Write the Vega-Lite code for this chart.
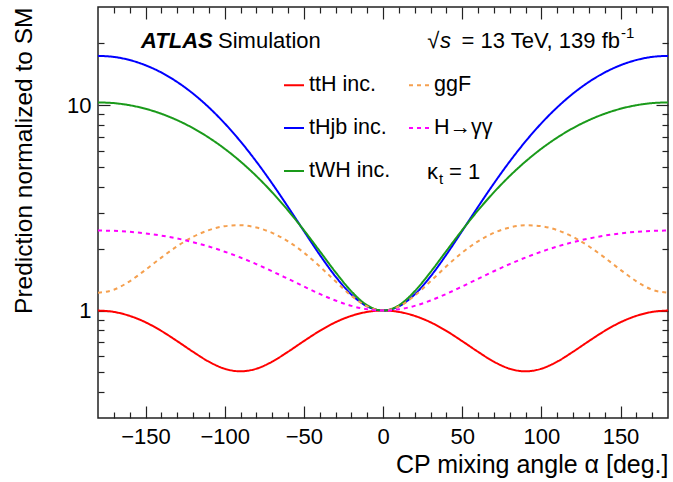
{
  "$schema": "https://vega.github.io/schema/vega-lite/v6.json",
  "width": 570,
  "height": 411,
  "autosize": {"type": "none"},
  "padding": {"left": 98, "top": 7, "right": 5, "bottom": 64},
  "background": "white",
  "config": {
    "view": {"stroke": "#222222", "strokeWidth": 1.5},
    "font": "Liberation Sans",
    "axis": {"domain": false, "grid": false, "tickColor": "#222222", "tickWidth": 1.2, "labelFont": "Liberation Sans", "titleFont": "Liberation Sans", "labelFontSize": 22, "titleFontSize": 25, "titleFontWeight": "normal", "labelColor": "black", "titleColor": "black"},
    "text": {"font": "Liberation Sans", "color": "black"}
  },
  "resolve": {"axis": {"x": "independent", "y": "independent"}},
  "layer": [
    {
      "data": {"values": [
        {"alpha": -180, "series": "ttH inc.", "value": 1.000}, {"alpha": -170, "series": "ttH inc.", "value": 0.985}, {"alpha": -160, "series": "ttH inc.", "value": 0.942}, {"alpha": -150, "series": "ttH inc.", "value": 0.877}, {"alpha": -140, "series": "ttH inc.", "value": 0.796}, {"alpha": -130, "series": "ttH inc.", "value": 0.710}, {"alpha": -120, "series": "ttH inc.", "value": 0.630}, {"alpha": -110, "series": "ttH inc.", "value": 0.564}, {"alpha": -100, "series": "ttH inc.", "value": 0.521}, {"alpha": -90, "series": "ttH inc.", "value": 0.506}, {"alpha": -80, "series": "ttH inc.", "value": 0.521}, {"alpha": -70, "series": "ttH inc.", "value": 0.564}, {"alpha": -60, "series": "ttH inc.", "value": 0.630}, {"alpha": -50, "series": "ttH inc.", "value": 0.710}, {"alpha": -40, "series": "ttH inc.", "value": 0.796}, {"alpha": -30, "series": "ttH inc.", "value": 0.877}, {"alpha": -20, "series": "ttH inc.", "value": 0.942}, {"alpha": -10, "series": "ttH inc.", "value": 0.985}, {"alpha": 0, "series": "ttH inc.", "value": 1.000}, {"alpha": 10, "series": "ttH inc.", "value": 0.985}, {"alpha": 20, "series": "ttH inc.", "value": 0.942}, {"alpha": 30, "series": "ttH inc.", "value": 0.877}, {"alpha": 40, "series": "ttH inc.", "value": 0.796}, {"alpha": 50, "series": "ttH inc.", "value": 0.710}, {"alpha": 60, "series": "ttH inc.", "value": 0.630}, {"alpha": 70, "series": "ttH inc.", "value": 0.564}, {"alpha": 80, "series": "ttH inc.", "value": 0.521}, {"alpha": 90, "series": "ttH inc.", "value": 0.506}, {"alpha": 100, "series": "ttH inc.", "value": 0.521}, {"alpha": 110, "series": "ttH inc.", "value": 0.564}, {"alpha": 120, "series": "ttH inc.", "value": 0.630}, {"alpha": 130, "series": "ttH inc.", "value": 0.710}, {"alpha": 140, "series": "ttH inc.", "value": 0.796}, {"alpha": 150, "series": "ttH inc.", "value": 0.877}, {"alpha": 160, "series": "ttH inc.", "value": 0.942}, {"alpha": 170, "series": "ttH inc.", "value": 0.985}, {"alpha": 180, "series": "ttH inc.", "value": 1.000},
        {"alpha": -180, "series": "tHjb inc.", "value": 17.35}, {"alpha": -170, "series": "tHjb inc.", "value": 17.15}, {"alpha": -160, "series": "tHjb inc.", "value": 16.56}, {"alpha": -150, "series": "tHjb inc.", "value": 15.62}, {"alpha": -140, "series": "tHjb inc.", "value": 14.40}, {"alpha": -130, "series": "tHjb inc.", "value": 12.95}, {"alpha": -120, "series": "tHjb inc.", "value": 11.37}, {"alpha": -110, "series": "tHjb inc.", "value": 9.743}, {"alpha": -100, "series": "tHjb inc.", "value": 8.148}, {"alpha": -90, "series": "tHjb inc.", "value": 6.652}, {"alpha": -80, "series": "tHjb inc.", "value": 5.309}, {"alpha": -70, "series": "tHjb inc.", "value": 4.151}, {"alpha": -60, "series": "tHjb inc.", "value": 3.195}, {"alpha": -50, "series": "tHjb inc.", "value": 2.440}, {"alpha": -40, "series": "tHjb inc.", "value": 1.870}, {"alpha": -30, "series": "tHjb inc.", "value": 1.465}, {"alpha": -20, "series": "tHjb inc.", "value": 1.198}, {"alpha": -10, "series": "tHjb inc.", "value": 1.048}, {"alpha": 0, "series": "tHjb inc.", "value": 1.000}, {"alpha": 10, "series": "tHjb inc.", "value": 1.048}, {"alpha": 20, "series": "tHjb inc.", "value": 1.198}, {"alpha": 30, "series": "tHjb inc.", "value": 1.465}, {"alpha": 40, "series": "tHjb inc.", "value": 1.870}, {"alpha": 50, "series": "tHjb inc.", "value": 2.440}, {"alpha": 60, "series": "tHjb inc.", "value": 3.195}, {"alpha": 70, "series": "tHjb inc.", "value": 4.151}, {"alpha": 80, "series": "tHjb inc.", "value": 5.309}, {"alpha": 90, "series": "tHjb inc.", "value": 6.652}, {"alpha": 100, "series": "tHjb inc.", "value": 8.148}, {"alpha": 110, "series": "tHjb inc.", "value": 9.743}, {"alpha": 120, "series": "tHjb inc.", "value": 11.37}, {"alpha": 130, "series": "tHjb inc.", "value": 12.95}, {"alpha": 140, "series": "tHjb inc.", "value": 14.40}, {"alpha": 150, "series": "tHjb inc.", "value": 15.62}, {"alpha": 160, "series": "tHjb inc.", "value": 16.56}, {"alpha": 170, "series": "tHjb inc.", "value": 17.15}, {"alpha": 180, "series": "tHjb inc.", "value": 17.35},
        {"alpha": -180, "series": "tWH inc.", "value": 10.30}, {"alpha": -170, "series": "tWH inc.", "value": 10.22}, {"alpha": -160, "series": "tWH inc.", "value": 9.980}, {"alpha": -150, "series": "tWH inc.", "value": 9.592}, {"alpha": -140, "series": "tWH inc.", "value": 9.072}, {"alpha": -130, "series": "tWH inc.", "value": 8.440}, {"alpha": -120, "series": "tWH inc.", "value": 7.721}, {"alpha": -110, "series": "tWH inc.", "value": 6.941}, {"alpha": -100, "series": "tWH inc.", "value": 6.129}, {"alpha": -90, "series": "tWH inc.", "value": 5.311}, {"alpha": -80, "series": "tWH inc.", "value": 4.514}, {"alpha": -70, "series": "tWH inc.", "value": 3.760}, {"alpha": -60, "series": "tWH inc.", "value": 3.071}, {"alpha": -50, "series": "tWH inc.", "value": 2.462}, {"alpha": -40, "series": "tWH inc.", "value": 1.948}, {"alpha": -30, "series": "tWH inc.", "value": 1.538}, {"alpha": -20, "series": "tWH inc.", "value": 1.241}, {"alpha": -10, "series": "tWH inc.", "value": 1.060}, {"alpha": 0, "series": "tWH inc.", "value": 1.000}, {"alpha": 10, "series": "tWH inc.", "value": 1.060}, {"alpha": 20, "series": "tWH inc.", "value": 1.241}, {"alpha": 30, "series": "tWH inc.", "value": 1.538}, {"alpha": 40, "series": "tWH inc.", "value": 1.948}, {"alpha": 50, "series": "tWH inc.", "value": 2.462}, {"alpha": 60, "series": "tWH inc.", "value": 3.071}, {"alpha": 70, "series": "tWH inc.", "value": 3.760}, {"alpha": 80, "series": "tWH inc.", "value": 4.514}, {"alpha": 90, "series": "tWH inc.", "value": 5.311}, {"alpha": 100, "series": "tWH inc.", "value": 6.129}, {"alpha": 110, "series": "tWH inc.", "value": 6.941}, {"alpha": 120, "series": "tWH inc.", "value": 7.721}, {"alpha": 130, "series": "tWH inc.", "value": 8.440}, {"alpha": 140, "series": "tWH inc.", "value": 9.072}, {"alpha": 150, "series": "tWH inc.", "value": 9.592}, {"alpha": 160, "series": "tWH inc.", "value": 9.980}, {"alpha": 170, "series": "tWH inc.", "value": 10.22}, {"alpha": 180, "series": "tWH inc.", "value": 10.30},
        {"alpha": -180, "series": "ggF", "value": 1.220}, {"alpha": -170, "series": "ggF", "value": 1.263}, {"alpha": -160, "series": "ggF", "value": 1.388}, {"alpha": -150, "series": "ggF", "value": 1.578}, {"alpha": -140, "series": "ggF", "value": 1.810}, {"alpha": -130, "series": "ggF", "value": 2.055}, {"alpha": -120, "series": "ggF", "value": 2.283}, {"alpha": -110, "series": "ggF", "value": 2.463}, {"alpha": -100, "series": "ggF", "value": 2.574}, {"alpha": -90, "series": "ggF", "value": 2.600}, {"alpha": -80, "series": "ggF", "value": 2.536}, {"alpha": -70, "series": "ggF", "value": 2.388}, {"alpha": -60, "series": "ggF", "value": 2.173}, {"alpha": -50, "series": "ggF", "value": 1.914}, {"alpha": -40, "series": "ggF", "value": 1.641}, {"alpha": -30, "series": "ggF", "value": 1.387}, {"alpha": -20, "series": "ggF", "value": 1.181}, {"alpha": -10, "series": "ggF", "value": 1.047}, {"alpha": 0, "series": "ggF", "value": 1.000}, {"alpha": 10, "series": "ggF", "value": 1.047}, {"alpha": 20, "series": "ggF", "value": 1.181}, {"alpha": 30, "series": "ggF", "value": 1.387}, {"alpha": 40, "series": "ggF", "value": 1.641}, {"alpha": 50, "series": "ggF", "value": 1.914}, {"alpha": 60, "series": "ggF", "value": 2.173}, {"alpha": 70, "series": "ggF", "value": 2.388}, {"alpha": 80, "series": "ggF", "value": 2.536}, {"alpha": 90, "series": "ggF", "value": 2.600}, {"alpha": 100, "series": "ggF", "value": 2.574}, {"alpha": 110, "series": "ggF", "value": 2.463}, {"alpha": 120, "series": "ggF", "value": 2.283}, {"alpha": 130, "series": "ggF", "value": 2.055}, {"alpha": 140, "series": "ggF", "value": 1.810}, {"alpha": 150, "series": "ggF", "value": 1.578}, {"alpha": 160, "series": "ggF", "value": 1.388}, {"alpha": 170, "series": "ggF", "value": 1.263}, {"alpha": 180, "series": "ggF", "value": 1.220},
        {"alpha": -180, "series": "H→γγ", "value": 2.450}, {"alpha": -170, "series": "H→γγ", "value": 2.442}, {"alpha": -160, "series": "H→γγ", "value": 2.416}, {"alpha": -150, "series": "H→γγ", "value": 2.374}, {"alpha": -140, "series": "H→γγ", "value": 2.316}, {"alpha": -130, "series": "H→γγ", "value": 2.242}, {"alpha": -120, "series": "H→γγ", "value": 2.152}, {"alpha": -110, "series": "H→γγ", "value": 2.049}, {"alpha": -100, "series": "H→γγ", "value": 1.934}, {"alpha": -90, "series": "H→γγ", "value": 1.811}, {"alpha": -80, "series": "H→γγ", "value": 1.683}, {"alpha": -70, "series": "H→γγ", "value": 1.553}, {"alpha": -60, "series": "H→γγ", "value": 1.427}, {"alpha": -50, "series": "H→γγ", "value": 1.310}, {"alpha": -40, "series": "H→γγ", "value": 1.205}, {"alpha": -30, "series": "H→γγ", "value": 1.119}, {"alpha": -20, "series": "H→γγ", "value": 1.054}, {"alpha": -10, "series": "H→γγ", "value": 1.014}, {"alpha": 0, "series": "H→γγ", "value": 1.000}, {"alpha": 10, "series": "H→γγ", "value": 1.014}, {"alpha": 20, "series": "H→γγ", "value": 1.054}, {"alpha": 30, "series": "H→γγ", "value": 1.119}, {"alpha": 40, "series": "H→γγ", "value": 1.205}, {"alpha": 50, "series": "H→γγ", "value": 1.310}, {"alpha": 60, "series": "H→γγ", "value": 1.427}, {"alpha": 70, "series": "H→γγ", "value": 1.553}, {"alpha": 80, "series": "H→γγ", "value": 1.683}, {"alpha": 90, "series": "H→γγ", "value": 1.811}, {"alpha": 100, "series": "H→γγ", "value": 1.934}, {"alpha": 110, "series": "H→γγ", "value": 2.049}, {"alpha": 120, "series": "H→γγ", "value": 2.152}, {"alpha": 130, "series": "H→γγ", "value": 2.242}, {"alpha": 140, "series": "H→γγ", "value": 2.316}, {"alpha": 150, "series": "H→γγ", "value": 2.374}, {"alpha": 160, "series": "H→γγ", "value": 2.416}, {"alpha": 170, "series": "H→γγ", "value": 2.442}, {"alpha": 180, "series": "H→γγ", "value": 2.450}
      ]},
      "mark": {"type": "line", "strokeWidth": 2, "interpolate": "monotone", "clip": true},
      "encoding": {
        "x": {"field": "alpha", "type": "quantitative", "scale": {"domain": [-180, 180], "nice": false, "zero": false},
          "axis": {"orient": "bottom", "values": [-150, -100, -50, 0, 50, 100, 150], "tickSize": -12, "labelPadding": 20, "labelExpr": "replace(datum.label, '-', '\u2212')", "title": "CP mixing angle α [deg.]", "titleAnchor": "end", "titlePadding": 5}},
        "y": {"field": "value", "type": "quantitative", "scale": {"type": "log", "domain": [0.3, 30], "nice": false},
          "axis": {"orient": "left", "values": [1, 10], "tickSize": -12, "labelPadding": 19, "labelExpr": "datum.value == 1 ? '1' : '10'", "title": "Prediction normalized to SM", "titleFontSize": 24.5, "titleAnchor": "end", "titlePadding": 30}},
        "color": {"field": "series", "type": "nominal",
          "scale": {"domain": ["ttH inc.", "tHjb inc.", "tWH inc.", "ggF", "H→γγ"], "range": ["#ff0000", "#0000ff", "#1a9a1a", "#f5a04f", "#ff00ff"]},
          "legend": {"orient": "none", "legendX": 185, "legendY": 67, "columns": 2, "title": null, "symbolType": "stroke", "symbolSize": 400, "symbolStrokeWidth": 2, "labelFontSize": 21.5, "labelFont": "Liberation Sans", "labelColor": "black", "labelOffset": 4, "rowPadding": 21, "columnPadding": 14}},
        "strokeDash": {"field": "series", "type": "nominal",
          "scale": {"domain": ["ttH inc.", "tHjb inc.", "tWH inc.", "ggF", "H→γγ"], "range": [[1, 0], [1, 0], [1, 0], [4, 4], [4, 4]]},
          "legend": {"orient": "none", "legendX": 185, "legendY": 67, "columns": 2, "title": null, "symbolType": "stroke", "symbolSize": 400, "symbolStrokeWidth": 2, "labelFontSize": 21.5, "labelFont": "Liberation Sans", "labelColor": "black", "labelOffset": 4, "rowPadding": 21, "columnPadding": 14}}
      }
    },
    {
      "data": {"values": [{"a": -152.8, "v": 19.05, "t": "ATLAS"}]},
      "mark": {"type": "text", "align": "left", "baseline": "alphabetic", "fontSize": 22, "fontWeight": "bold", "fontStyle": "italic"},
      "encoding": {
        "x": {"field": "a", "type": "quantitative", "scale": {"domain": [-180, 180], "nice": false, "zero": false},
          "axis": {"orient": "bottom", "values": [-170, -160, -140, -130, -120, -110, -90, -80, -70, -60, -40, -30, -20, -10, 10, 20, 30, 40, 60, 70, 80, 90, 110, 120, 130, 140, 160, 170], "tickSize": -6, "labels": false, "title": null}},
        "y": {"field": "v", "type": "quantitative", "scale": {"type": "log", "domain": [0.3, 30], "nice": false},
          "axis": {"orient": "left", "values": [0.4, 0.5, 0.6, 0.7, 0.8, 0.9, 2, 3, 4, 5, 6, 7, 8, 9, 20], "tickSize": -6, "labels": false, "title": null}},
        "text": {"field": "t"}
      }
    },
    {
      "data": {"values": [{"a": -104.2, "v": 19.05, "t": "Simulation"}, {"a": 27.8, "v": 4.39, "t": "κ"}, {"a": 41.7, "v": 4.39, "t": "= 1"}]},
      "mark": {"type": "text", "align": "left", "baseline": "alphabetic", "fontSize": 22},
      "encoding": {
        "x": {"field": "a", "type": "quantitative", "scale": {"domain": [-180, 180], "nice": false, "zero": false},
          "axis": {"orient": "top", "values": [-150, -100, -50, 0, 50, 100, 150], "tickSize": -12, "labels": false, "title": null}},
        "y": {"field": "v", "type": "quantitative", "scale": {"type": "log", "domain": [0.3, 30], "nice": false},
          "axis": {"orient": "right", "values": [1, 10], "tickSize": -12, "labels": false, "title": null}},
        "text": {"field": "t"}
      }
    },
    {
      "data": {"values": [{"a": 149.7, "v": 19.05, "t": "= 13 TeV, 139 fb"}, {"a": 35.5, "v": 19.05, "t": "√"}]},
      "mark": {"type": "text", "align": "right", "baseline": "alphabetic", "fontSize": 22},
      "encoding": {
        "x": {"field": "a", "type": "quantitative", "scale": {"domain": [-180, 180], "nice": false, "zero": false},
          "axis": {"orient": "top", "values": [-170, -160, -140, -130, -120, -110, -90, -80, -70, -60, -40, -30, -20, -10, 10, 20, 30, 40, 60, 70, 80, 90, 110, 120, 130, 140, 160, 170], "tickSize": -6, "labels": false, "title": null}},
        "y": {"field": "v", "type": "quantitative", "scale": {"type": "log", "domain": [0.3, 30], "nice": false},
          "axis": {"orient": "right", "values": [0.4, 0.5, 0.6, 0.7, 0.8, 0.9, 2, 3, 4, 5, 6, 7, 8, 9, 20], "tickSize": -6, "labels": false, "title": null}},
        "text": {"field": "t"}
      }
    },
    {
      "data": {"values": [{"a": 43.0, "v": 19.05, "t": "s"}]},
      "mark": {"type": "text", "align": "right", "baseline": "alphabetic", "fontSize": 22, "fontStyle": "italic"},
      "encoding": {
        "x": {"field": "a", "type": "quantitative", "scale": {"domain": [-180, 180], "nice": false, "zero": false}, "axis": null},
        "y": {"field": "v", "type": "quantitative", "scale": {"type": "log", "domain": [0.3, 30], "nice": false}, "axis": null},
        "text": {"field": "t"}
      }
    },
    {
      "data": {"values": [{"a": 150.3, "v": 21.3, "t": "-1"}, {"a": 35.4, "v": 4.15, "t": "t"}]},
      "mark": {"type": "text", "align": "left", "baseline": "alphabetic", "fontSize": 15},
      "encoding": {
        "x": {"field": "a", "type": "quantitative", "scale": {"domain": [-180, 180], "nice": false, "zero": false}, "axis": null},
        "y": {"field": "v", "type": "quantitative", "scale": {"type": "log", "domain": [0.3, 30], "nice": false}, "axis": null},
        "text": {"field": "t"}
      }
    }
  ]
}
